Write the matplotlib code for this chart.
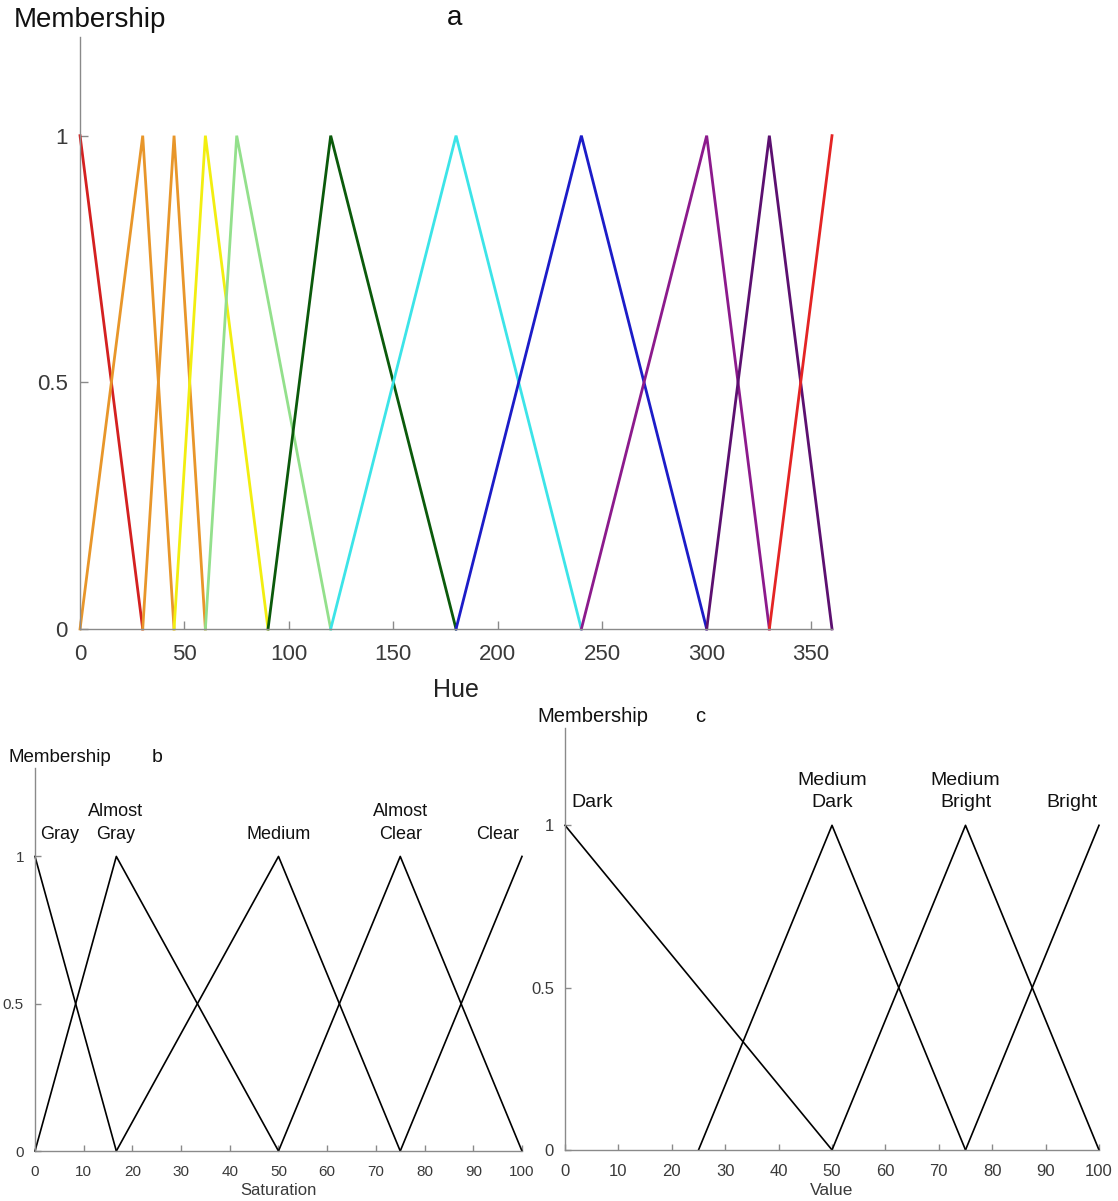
import matplotlib.pyplot as plt

plt.rcParams['font.family'] = ['Liberation Sans', 'DejaVu Sans']

# Hue membership functions (degrees), piecewise-linear break points
hue_x = [
    [0, 30],
    [0, 30, 45],
    [30, 45, 60],
    [45, 60, 90],
    [60, 75, 120],
    [90, 120, 180],
    [120, 180, 240],
    [180, 240, 300],
    [240, 300, 330],
    [300, 330, 360],
    [330, 360],
]
hue_y = [
    [1, 0],
    [0, 1, 0],
    [0, 1, 0],
    [0, 1, 0],
    [0, 1, 0],
    [0, 1, 0],
    [0, 1, 0],
    [0, 1, 0],
    [0, 1, 0],
    [0, 1, 0],
    [0, 1],
]
hue_colors = ['#d42020', '#e8962a', '#e8962a', '#f2ee10', '#93e08c', '#0b5a0b',
              '#3ce4e8', '#1c1cc8', '#8c1a8c', '#5c1070', '#e42424']
hue_ticks = [0, 50, 100, 150, 200, 250, 300, 350]

# Saturation membership functions
sat_names = ['Gray', 'Almost\nGray', 'Medium', 'Almost\nClear', 'Clear']
sat_x = [[0, 16.7], [0, 16.7, 50], [16.7, 50, 75], [50, 75, 100], [75, 100]]
sat_y = [[1, 0], [0, 1, 0], [0, 1, 0], [0, 1, 0], [0, 1]]
sat_label_x = [5, 16.5, 50, 75, 95]

# Value membership functions
val_names = ['Dark', 'Medium\nDark', 'Medium\nBright', 'Bright']
val_x = [[0, 50], [25, 50, 75], [50, 75, 100], [75, 100]]
val_y = [[1, 0], [0, 1, 0], [0, 1, 0], [0, 1]]
val_label_x = [5, 50, 75, 95]

mem_ticks = [0, 0.5, 1]
mem_ticklabels = ['0', '0.5', '1']

AXIS_GRAY = '#8a8a8a'
TEXT_GRAY = '#3a3a3a'


def style_axes(ax, xmax, ymax, xticks, tick_size, tick_len, pad):
    ax.set_xlim(0, xmax)
    ax.set_ylim(0, ymax)
    for side in ['top', 'right']:
        ax.spines[side].set_visible(False)
    for side in ['left', 'bottom']:
        ax.spines[side].set_color(AXIS_GRAY)
        ax.spines[side].set_linewidth(1.0)
    ax.set_xticks(xticks)
    ax.set_yticks(mem_ticks)
    ax.set_yticklabels(mem_ticklabels)
    ax.tick_params(direction='in', length=tick_len, width=1.0, color=AXIS_GRAY,
                   labelsize=tick_size, labelcolor=TEXT_GRAY)
    ax.tick_params(axis='x', pad=pad)
    ax.tick_params(axis='y', pad=pad - 2)
    ax.patch.set_visible(False)


fig = plt.figure(figsize=(11.18, 12.01), dpi=100)

# a: hue
ax_a = fig.add_axes([0.0716, 0.4763, 0.6726, 0.4929])
for xs, ys, c in zip(hue_x, hue_y, hue_colors):
    ax_a.plot(xs, ys, color=c, lw=2.0, solid_joinstyle='miter', clip_on=False)
style_axes(ax_a, 360, 1.2, hue_ticks, 16, 6, 11)
ax_a.set_xlabel('Hue', fontsize=18, color='#222222', labelpad=9)
fig.text(14 / 1118, 1 - 20 / 1201, 'Membership', fontsize=20, color='#111111',
         ha='left', va='center')
fig.text(455 / 1118, 1 - 18 / 1201, 'a', fontsize=20, color='#111111',
         ha='center', va='center')

# b: saturation
ax_b = fig.add_axes([0.0313, 0.0416, 0.4356, 0.3189])
for xs, ys in zip(sat_x, sat_y):
    ax_b.plot(xs, ys, color='black', lw=1.2, clip_on=False)
for lx, name in zip(sat_label_x, sat_names):
    ax_b.text(lx, 1.045, name, fontsize=13, ha='center', va='bottom',
              color='#111111', linespacing=1.45)
style_axes(ax_b, 100, 1.3, list(range(0, 101, 10)), 11, 4, 10)
ax_b.set_xlabel('Saturation', fontsize=12, color=TEXT_GRAY, labelpad=3)
fig.text(8 / 1118, 1 - 757 / 1201, 'Membership', fontsize=13.5, color='#111111',
         ha='left', va='center')
fig.text(157 / 1118, 1 - 757 / 1201, 'b', fontsize=14, color='#111111',
         ha='center', va='center')

# c: value
ax_c = fig.add_axes([0.5054, 0.0425, 0.4776, 0.3514])
for xs, ys in zip(val_x, val_y):
    ax_c.plot(xs, ys, color='black', lw=1.2, clip_on=False)
for lx, name in zip(val_label_x, val_names):
    ax_c.text(lx, 1.045, name, fontsize=14, ha='center', va='bottom',
              color='#111111', linespacing=1.4)
style_axes(ax_c, 100, 1.3, list(range(0, 101, 10)), 12, 4, 10)
ax_c.set_xlabel('Value', fontsize=12.5, color=TEXT_GRAY, labelpad=3)
fig.text(537 / 1118, 1 - 716 / 1201, 'Membership', fontsize=14.5, color='#111111',
         ha='left', va='center')
fig.text(700 / 1118, 1 - 716 / 1201, 'c', fontsize=14.5, color='#111111',
         ha='center', va='center')

fig.savefig('out.png', dpi=100, facecolor='white')
